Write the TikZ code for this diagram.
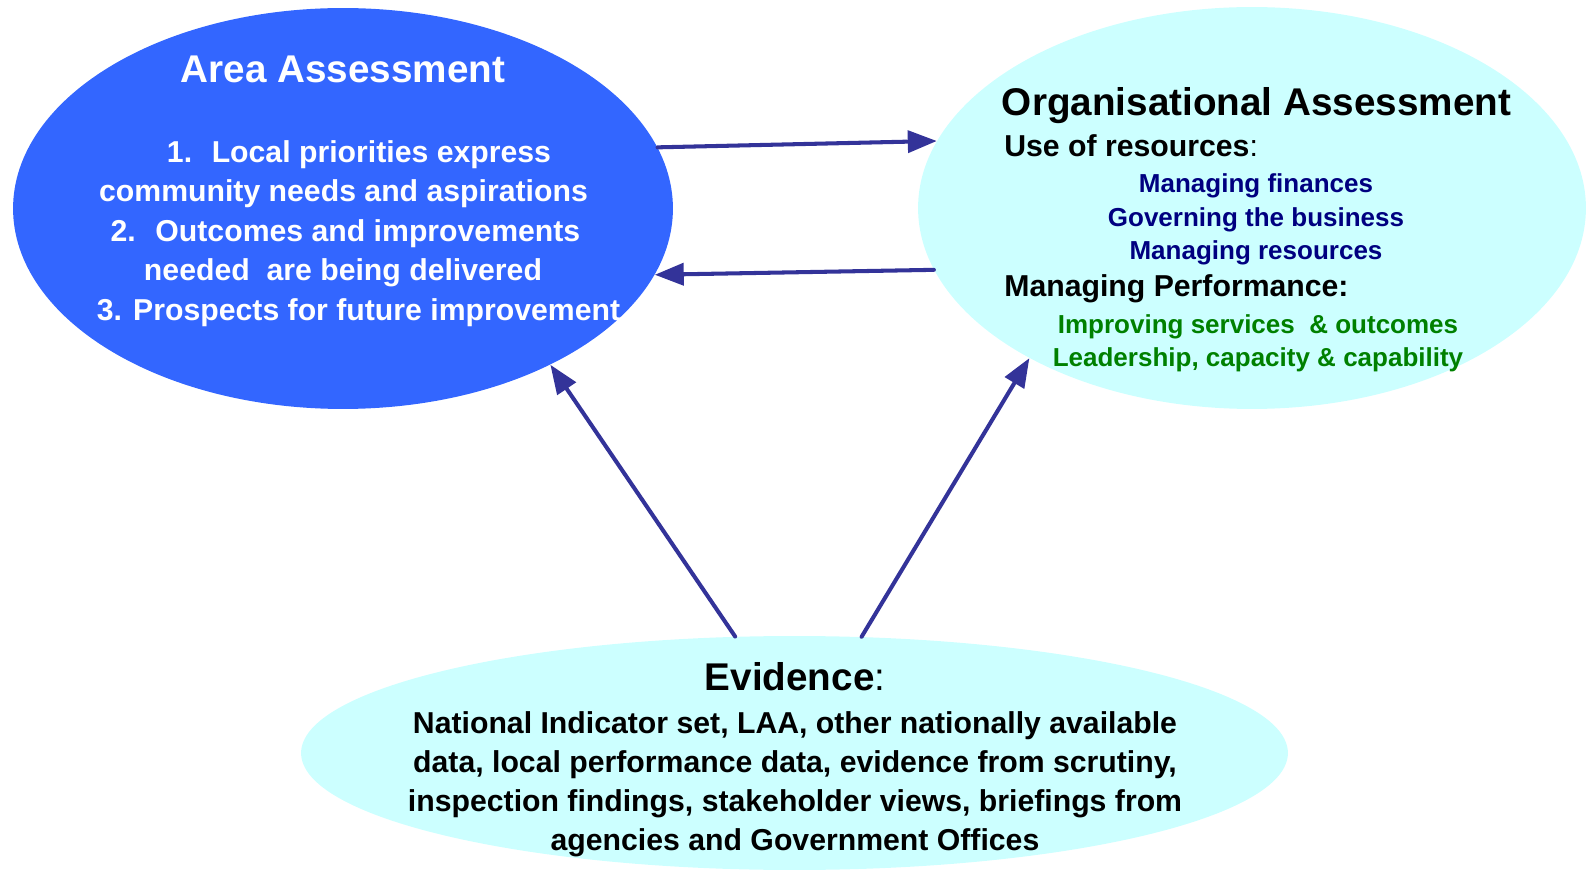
\documentclass[tikz,border=0pt]{standalone}
\usepackage{fontspec}
\setmainfont{Liberation Sans}
\usetikzlibrary{shapes.geometric,arrows.meta}
\definecolor{areablue}{HTML}{3366FF}
\definecolor{paleblue}{HTML}{CCFFFF}
\definecolor{arrowblue}{HTML}{333399}
\definecolor{navytext}{HTML}{000080}
\definecolor{greentext}{HTML}{008000}

\begin{document}
\begin{tikzpicture}[x=0.02cm,y=-0.02cm,
  bubble/.style={ellipse,inner sep=0pt},
  title/.style={font=\fontsize{22}{26}\selectfont\bfseries,anchor=base,inner sep=0pt},
  body/.style={font=\fontsize{17.2}{22}\selectfont\bfseries,anchor=base,inner sep=0pt},
  item/.style={font=\fontsize{14.8}{19}\selectfont\bfseries,anchor=base,inner sep=0pt},
  link/.style={draw=arrowblue,line width=2.3pt,line cap=round,-{Triangle[length=16.5pt,width=12.5pt]}}]
\useasboundingbox (0,0) rectangle (1586,871);

% the three ellipses
\node[bubble,fill=areablue,minimum width=13.2cm,minimum height=8.02cm] (area) at (343,208.5) {};
\node[bubble,fill=paleblue,minimum width=13.36cm,minimum height=8.04cm] (org) at (1252,208) {};
\node[bubble,fill=paleblue,minimum width=19.74cm,minimum height=4.68cm] (evid) at (794.5,753) {};

% area assessment
\node[title,white] (areatitle) at (343,83) {Area Assessment};
\foreach \x/\y/\t [count=\i] in {359/163/{1.~ Local priorities express},
    343.5/202/{community needs and aspirations},
    345.5/242/{2.~ Outcomes and improvements},
    343/281/{needed~ are being delivered},
    358.5/321/{3. Prospects for future improvement}} {
\node[body,white] (arealine\i) at (\x,\y) {\t};
}

% organisational assessment
\node[title] (orgtitle) at (1256.5,116) {Organisational Assessment};
\node[body,anchor=base west] (useres) at (1004,157) {Use of resources{\mdseries :}};
\foreach \y/\t [count=\i] in {193/{Managing finances}, 227/{Governing the business}, 260/{Managing resources}} {
\node[item,navytext] (resitem\i) at (1256,\y) {\t};
}
\node[body,anchor=base west] (manperf) at (1004,297) {Managing Performance:};
\foreach \y/\t [count=\i] in {334/{Improving services~ \& outcomes}, 367/{Leadership, capacity \& capability}} {
\node[item,greentext] (perfitem\i) at (1258,\y) {\t};
}

% evidence
\node[title] (evidtitle) at (795,690) {Evidence{\mdseries :}};
\foreach \y/\t [count=\i] in {733/{National Indicator set, LAA, other nationally available},
    772/{data, local performance data, evidence from scrutiny,},
    811/{inspection findings, stakeholder views, briefings from},
    850/{agencies and Government Offices}} {
\node[body] (evidline\i) at (795,\y) {\t};
}

% arrows
\draw[link] (area.11.5) -- (org.168.8);
\draw[link] (org.191.2) -- (area.-12.6);
\draw[link] (evid.117.4) -- (area.-37.5);
\draw[link] (evid.60.4) -- (org.214.6);

\end{tikzpicture}
\end{document}
